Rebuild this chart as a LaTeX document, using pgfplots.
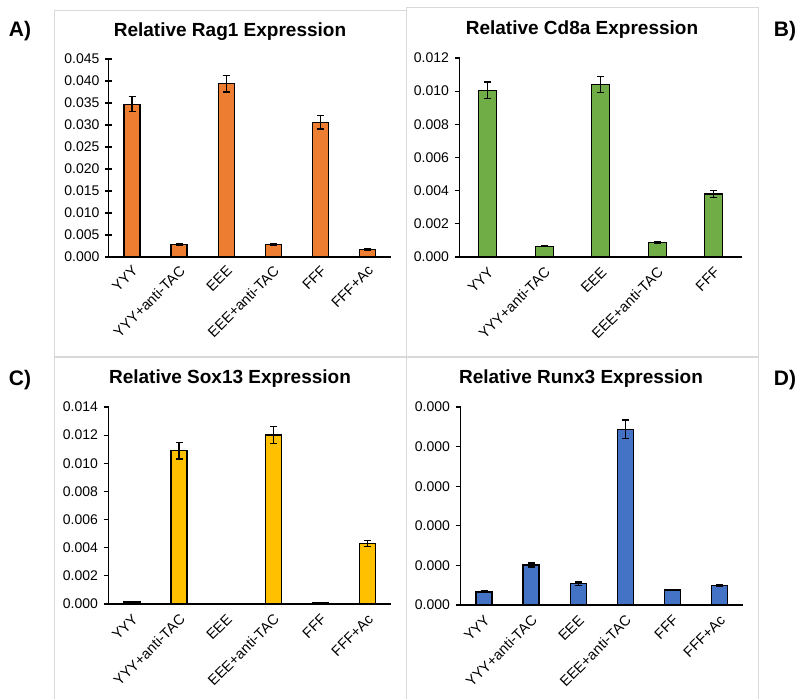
\documentclass[border=0pt]{standalone}
\usepackage{pgfplots}
\pgfplotsset{compat=1.18}
\usepackage{fontspec}
\setmainfont{Liberation Sans}
\definecolor{xlorange}{HTML}{ED7D31}
\definecolor{xlgreen}{HTML}{70AD47}
\definecolor{xlgold}{HTML}{FFC000}
\definecolor{xlblue}{HTML}{4472C4}
\definecolor{panelgrey}{HTML}{D9D9D9}
\pgfplotsset{
  panel/.style={
    scale only axis,
    anchor=south west,
    ybar, bar width=16pt,
    axis x line=bottom, axis y line=left,
    axis line style={-, line width=1.4pt, black},
    ymin=0,
    xtick={0,...,5},
    xticklabel style={xshift=4pt, yshift=-7pt, rotate=45, anchor=east, font=\fontsize{14.5}{16}\selectfont, inner sep=1pt},
    yticklabel style={font=\fontsize{14}{16}\selectfont, xshift=-2pt,
      /pgf/number format/.cd, fixed, fixed zerofill, precision=3, assume math mode=true},
    major x tick style={draw=none},
    major y tick style={line width=1.2pt, black},
    major tick length=5pt,
    scaled y ticks=false,
    clip=false,
    error bars/y dir=both, error bars/y explicit,
    error bars/error mark options={rotate=90, mark size=3.5pt, line width=1.3pt, black},
    error bars/error bar style={line width=1.3pt, black},
  },
  barstyle/.style={draw=black, line width=1.3pt, fill=#1},
}
\begin{document}
\begin{tikzpicture}[x=1pt,y=1pt]
\fill[white] (0,0) rectangle (802,699);
% panel borders
\draw[panelgrey, line width=1pt] (54.5,0) -- (54.5,688) -- (406,688);
\draw[panelgrey, line width=1pt] (406,0) -- (406,691) -- (758,691) -- (758,0);
\draw[panelgrey, line width=1.5pt] (54.5,342) -- (758,342);
% panel letters
\node[font=\bfseries\fontsize{21}{24}\selectfont] at (20,668) {A)};
\node[font=\bfseries\fontsize{21}{24}\selectfont] at (785,668) {B)};
\node[font=\bfseries\fontsize{21}{24}\selectfont] at (20,319) {C)};
\node[font=\bfseries\fontsize{21}{24}\selectfont] at (785,319) {D)};
% titles
\node[font=\bfseries\fontsize{19}{21}\selectfont] at (230,667) {Relative Rag1 Expression};
\node[font=\bfseries\fontsize{19}{21}\selectfont] at (582,669) {Relative Cd8a Expression};
\node[font=\bfseries\fontsize{19}{21}\selectfont] at (230,320) {Relative Sox13 Expression};
\node[font=\bfseries\fontsize{19}{21}\selectfont] at (581,320) {Relative Runx3 Expression};

% A
\begin{axis}[panel, at={(108.5pt,442pt)}, width=282.5pt, height=198pt,
  xmin=-0.5, xmax=5.5, ymax=0.045, ytick={0,0.005,...,0.0451},
  tick align=center, major tick length=7pt,
  xticklabels={YYY,YYY+anti-TAC,EEE,EEE+anti-TAC,FFF,FFF+Ac}]
\addplot[barstyle=xlorange] coordinates {
  (0,0.0347) +- (0,0.0017)
  (1,0.0029) +- (0,0.0002)
  (2,0.0394) +- (0,0.0019)
  (3,0.0028) +- (0,0.0002)
  (4,0.0306) +- (0,0.0015)
  (5,0.0017) +- (0,0.0001)
};
\end{axis}

% B
\begin{axis}[panel, at={(459.5pt,442pt)}, width=282.5pt, height=199pt,
  bar width=18pt,
  xmin=-0.5, xmax=4.5, ymax=0.012, ytick={0,0.002,...,0.0121}, xtick={0,...,4},
  tick align=outside,
  xticklabels={YYY,YYY+anti-TAC,EEE,EEE+anti-TAC,FFF}]
\addplot[barstyle=xlgreen] coordinates {
  (0,0.01005) +- (0,0.0005)
  (1,0.00065) +- (0,0.00003)
  (2,0.0104) +- (0,0.0005)
  (3,0.00088) +- (0,0.00003)
  (4,0.0038) +- (0,0.0002)
};
\end{axis}

% C
\begin{axis}[panel, at={(108.5pt,95pt)}, width=282.5pt, height=197pt,
  xmin=-0.5, xmax=5.5, ymax=0.014, ytick={0,0.002,...,0.0141},
  tick align=outside,
  xticklabels={YYY,YYY+anti-TAC,EEE,EEE+anti-TAC,FFF,FFF+Ac}]
\addplot[barstyle=xlgold] coordinates {
  (0,0.00015) +- (0,0.00001)
  (1,0.0109) +- (0,0.0006)
  (2,0.00003) +- (0,0.000005)
  (3,0.0120) +- (0,0.0006)
  (4,0.0001) +- (0,0.00001)
  (5,0.0043) +- (0,0.0002)
};
\end{axis}

% D
\begin{axis}[panel, at={(460.5pt,94pt)}, width=282.5pt, height=198pt,
  xmin=-0.5, xmax=5.5, ymax=0.0005, ytick={0,0.0001,0.0002,0.0003,0.0004,0.0005},
  yticklabels={0.000,0.000,0.000,0.000,0.000,0.000},
  tick align=outside,
  xticklabels={YYY,YYY+anti-TAC,EEE,EEE+anti-TAC,FFF,FFF+Ac}]
\addplot[barstyle=xlblue] coordinates {
  (0,0.000033) +- (0,0.000002)
  (1,0.000101) +- (0,0.000005)
  (2,0.000054) +- (0,0.000004)
  (3,0.000444) +- (0,0.000023)
  (4,0.000038) +- (0,0.000002)
  (5,0.000049) +- (0,0.000003)
};
\end{axis}
\end{tikzpicture}
\end{document}
